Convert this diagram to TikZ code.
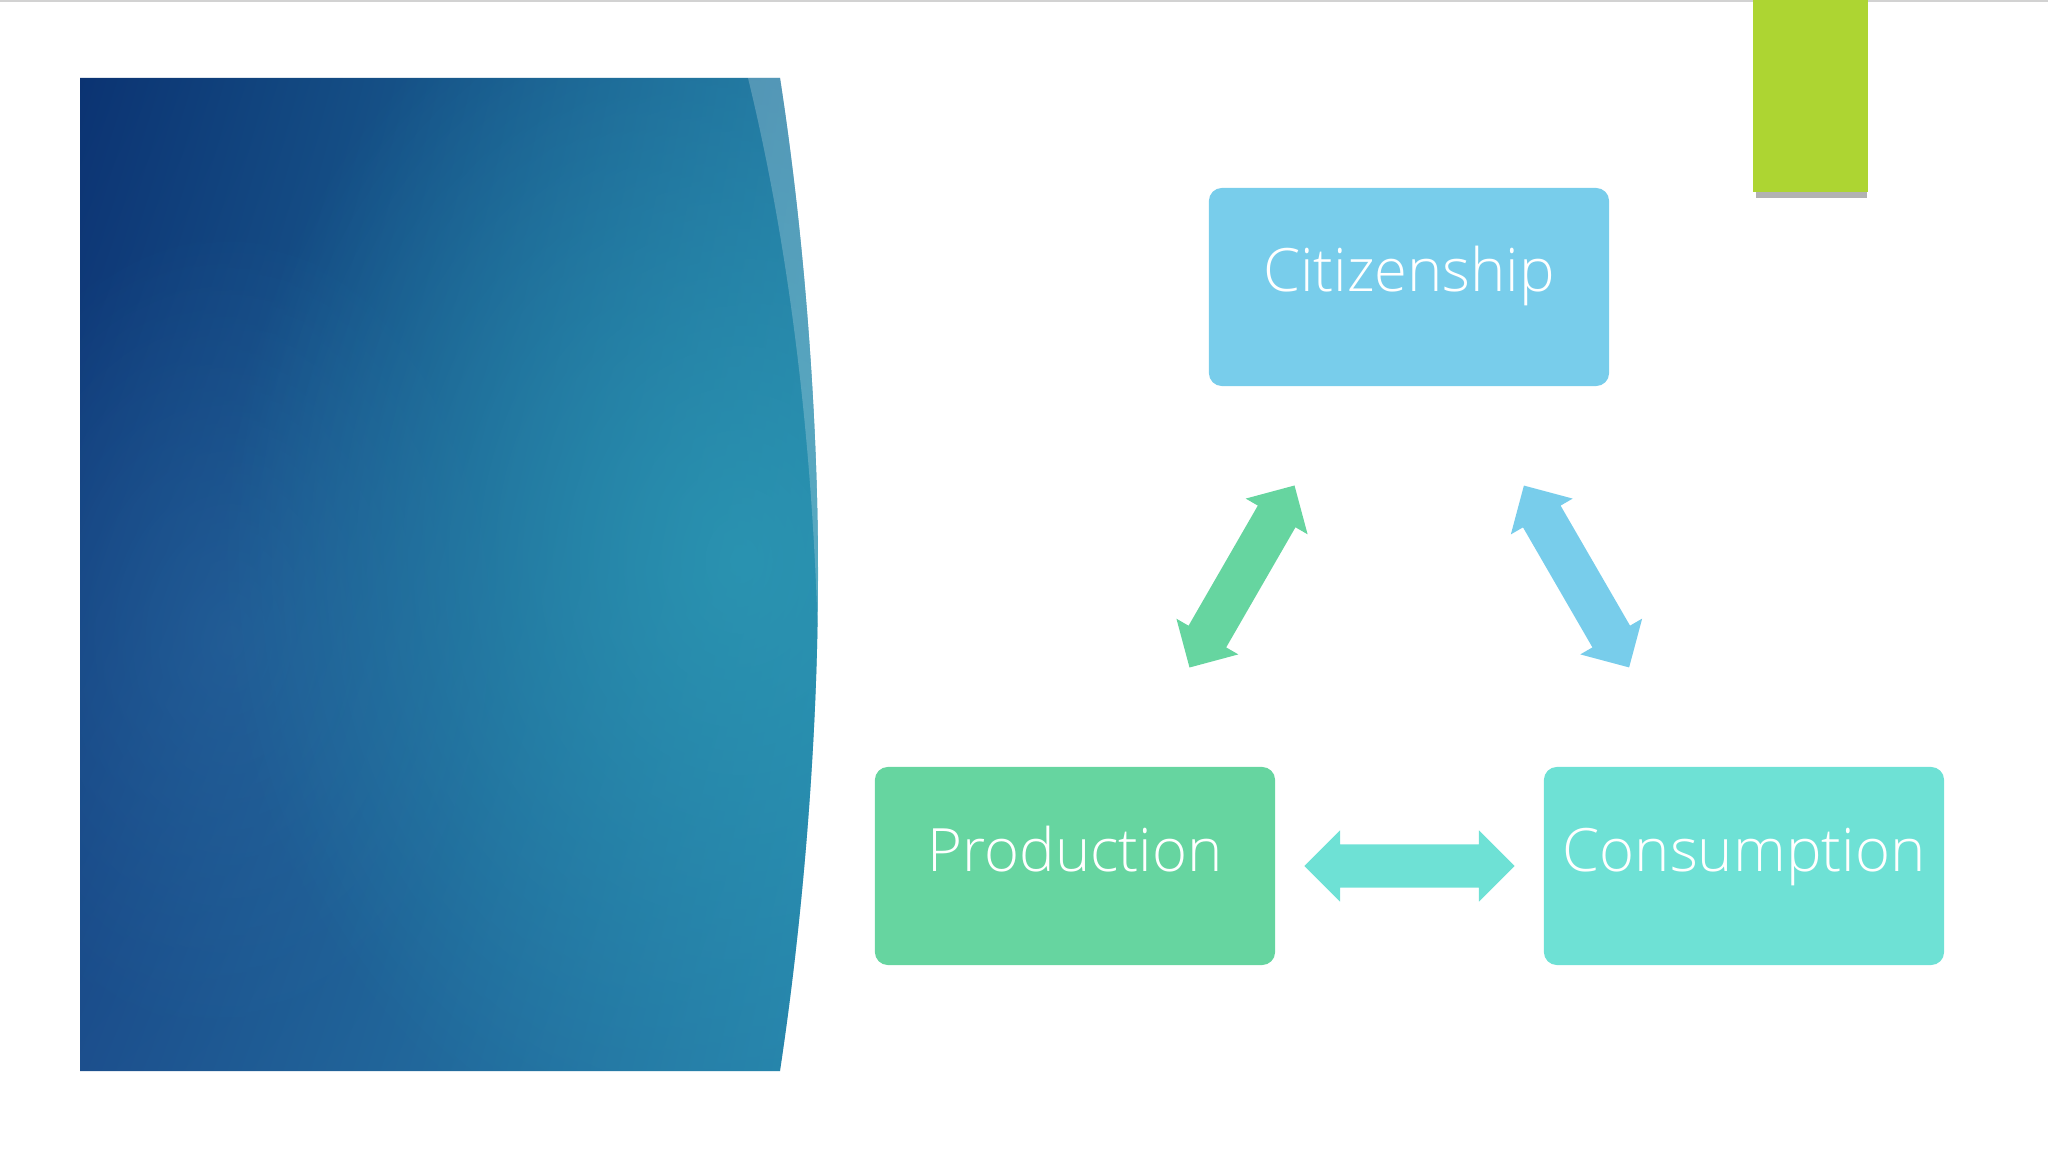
\documentclass[tikz,border=0pt]{standalone}
\usepackage{fontspec}
\setmainfont{Open Sans}[UprightFont=* Light]
\usetikzlibrary{shapes.arrows,fadings,shadings}

\definecolor{citiblue}{HTML}{78CDEB}
\definecolor{prodgreen}{HTML}{66D5A0}
\definecolor{consteal}{HTML}{6EE1D5}
\definecolor{accentlime}{HTML}{ADD532}
\definecolor{panelnavy}{HTML}{0B3372}
\definecolor{panelteal}{HTML}{2C9CB5}
\definecolor{panelblue}{HTML}{2D6DA6}
\definecolor{paneltopr}{HTML}{2378A2}
\definecolor{panelbotl}{HTML}{1C4F8D}
\definecolor{panelbotr}{HTML}{2784AC}

\tikzfading[name=midglow, inner color=transparent!25, outer color=transparent!100]

\begin{document}
\begin{tikzpicture}[x=0.01cm,y=-0.01cm,
  box/.style={rounded corners=0.13cm, minimum width=4cm, inner sep=0pt,
    text height=1.04cm, text depth=0.94cm, text=white,
    font=\fontsize{17}{20}\selectfont},
  dblarrow/.style={double arrow, inner xsep=0pt, inner ysep=0.21cm,
    minimum height=2.1cm, minimum width=0.7cm,
    double arrow head extend=0.14cm, draw=none}]

\useasboundingbox (0,0) rectangle (2048,1152);

% left panel
\begin{scope}
\clip (80,78) -- (780,78) .. controls (805,240) and (818,420) .. (818,574)
  .. controls (818,725) and (805,905) .. (780,1071) -- (80,1071) -- cycle;
\shade[upper left=panelnavy, upper right=paneltopr, lower left=panelbotl,
  lower right=panelbotr] (80,78) rectangle (820,1071);
\fill[panelblue, path fading=midglow, opacity=0.6] (230,640) ellipse (300 and 420);
\fill[panelteal, path fading=midglow] (740,560) ellipse (520 and 640);
\end{scope}
\fill[white, opacity=0.22] (748,78) -- (780,78) .. controls (805,240) and (818,420) .. (818,574)
  -- (818,640) .. controls (812,420) and (785,230) .. (748,78) -- cycle;

% top rule and corner tab
\draw[gray!35, line width=0.6pt] (0,1) -- (2048,1);
\fill[gray!60] (1756,189) rectangle (1867,198);
\fill[accentlime] (1753,0) rectangle (1868,192);

\node[box, fill=citiblue] (citi) at (1409,287) {Citizenship};
\node[box, fill=prodgreen] (prod) at (1075,866) {Production};
\node[box, fill=consteal] (cons) at (1744,866) {Consumption};

\path (prod.center) -- node[dblarrow, sloped, fill=prodgreen] (prodciti) {} (citi.center);
\path (citi.center) -- node[dblarrow, sloped, fill=citiblue] (citicons) {} (cons.center);
\path (prod.center) -- node[dblarrow, sloped, fill=consteal] (prodcons) {} (cons.center);

\end{tikzpicture}
\end{document}
